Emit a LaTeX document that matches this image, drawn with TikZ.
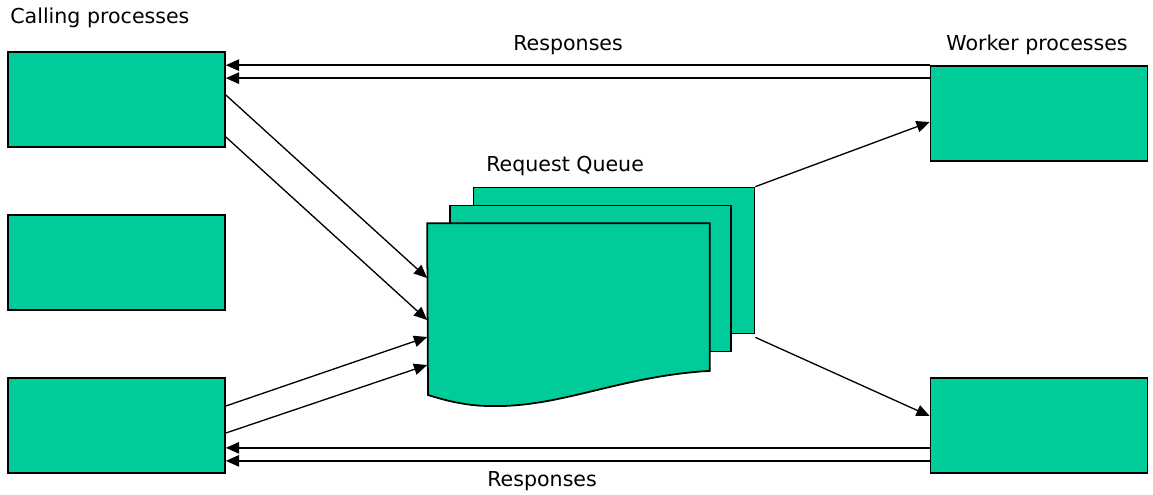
\documentclass[tikz,border=0pt]{standalone}
\usepackage{fontspec}
\setmainfont{DejaVu Sans}
\usetikzlibrary{arrows.meta, positioning}
\definecolor{procgreen}{RGB}{0,204,153}
\tikzset{
	queue diagram/.cd,
	process/.style = {
		draw,
		fill = procgreen,
		line width = 1pt,
		minimum width = 4.34cm,
		minimum height = 1.9cm,
		inner sep = 0pt
	},
	sheet/.style = {
		queue diagram/process,
		minimum width = 5.62cm,
		minimum height = 2.92cm
	},
	link/.style = {
		line width = 0.75pt,
		-{Triangle[length = 7.5pt, width = 6.5pt]}
	},
	caption/.style = {
		anchor = base west,
		inner sep = 0pt,
		font = \fontsize{11.7}{13}\selectfont
	},
}

\begin{document}
\begin{tikzpicture}[x = 0.02cm, y = -0.02cm]
		\useasboundingbox (0, 0) rectangle (1153, 494);
		% callers and workers
		\node[queue diagram/process] (ctop) at (116.5, 99.5) {};
		\node[queue diagram/process] (cmid) at (116.5, 262.5) {};
		\node[queue diagram/process] (cbot) at (116.5, 425.5) {};
		\node[queue diagram/process] (wtop) at (1039, 113.5) {};
		\node[queue diagram/process] (wbot) at (1039, 425.5) {};
		% request queue, three sheets
		\node[queue diagram/sheet] (qback) at (614, 260.5) {};
		\node[queue diagram/sheet] (qmid) at (590.5, 278.5) {};
		\node[queue diagram/sheet, draw = none, fill = none] (qfront) at (568.5, 297) {};
		\draw[line width = 1pt, fill = procgreen] (qfront.south east) -- (qfront.north east) -- (qfront.north west) -- (428, 395)
			.. controls (450, 402) and (470, 406) .. (490, 406)
			.. controls (560, 408) and (620, 376) .. (qfront.south east) -- cycle;
		% labels
		\node[queue diagram/caption] (lcall) at (10, 23) {Calling processes};
		\node[queue diagram/caption] (lwork) at (946, 50) {Worker processes};
		\node[queue diagram/caption] (lresptop) at (513, 50) {Responses};
		\node[queue diagram/caption] (lqueue) at (486, 171) {Request Queue};
		\node[queue diagram/caption] (lrespbot) at (487, 486) {Responses};
		% responses
		\coordinate (rt1) at (wtop.north west);
		\coordinate (rt2) at ([yshift = -13 * 0.02cm]wtop.north west);
		\coordinate (rb1) at ([yshift = 26 * 0.02cm]wbot.south west);
		\coordinate (rb2) at ([yshift = 13 * 0.02cm]wbot.south west);
		\foreach \r in {rt1, rt2, rb1, rb2}{
			\draw[queue diagram/link] (\r) -- (\r -| ctop.east);
		}
		% requests
		\draw[queue diagram/link] ([yshift = 4.5 * 0.02cm]ctop.east) -- ([yshift = 19 * 0.02cm]qfront.west);
		\draw[queue diagram/link] ([yshift = -37.5 * 0.02cm]ctop.east) -- ([yshift = -23 * 0.02cm]qfront.west);
		\draw[queue diagram/link] ([yshift = 19.5 * 0.02cm]cbot.east) -- ([yshift = -40 * 0.02cm]qfront.west);
		\draw[queue diagram/link] ([yshift = -7.5 * 0.02cm]cbot.east) -- ([yshift = -68 * 0.02cm]qfront.west);
		% dispatch to workers
		\draw[queue diagram/link] (qback.north east) -- ([yshift = -8.5 * 0.02cm]wtop.west);
		\draw[queue diagram/link] ([yshift = -3 * 0.02cm]qback.south east) -- ([yshift = 9.5 * 0.02cm]wbot.west);
	\end{tikzpicture}
\end{document}
